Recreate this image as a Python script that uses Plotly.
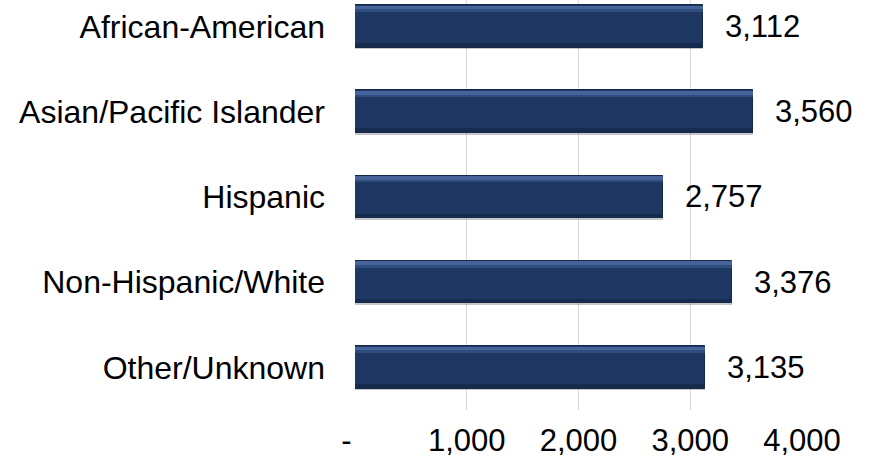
import plotly.graph_objects as go

# Average value by race/ethnicity group
categories = ["African-American", "Asian/Pacific Islander", "Hispanic",
              "Non-Hispanic/White", "Other/Unknown"]
values = [3112, 3560, 2757, 3376, 3135]
x_tickvals = [0, 1000, 2000, 3000, 4000]
x_ticktext = ["-\u00a0\u00a0", "1,000", "2,000", "3,000", "4,000"]

pos = list(range(len(categories)))
FONT = "Liberation Sans, Arial, sans-serif"
SIZE = 31

fig = go.Figure()

# soft drop shadow under each bar
fig.add_trace(go.Bar(
    x=values, y=pos, orientation="h", width=0.5, offset=-0.23,
    marker=dict(color="rgba(0,0,0,0.22)", line=dict(width=0)),
    hoverinfo="skip", showlegend=False,
))
# main bar body
fig.add_trace(go.Bar(
    x=values, y=pos, orientation="h", width=0.5, offset=-0.25,
    marker=dict(color="#1F3863", line=dict(color="#142848", width=1)),
    showlegend=False,
))
# upper bevel highlight
fig.add_trace(go.Bar(
    x=values, y=pos, orientation="h", width=0.045, offset=-0.245,
    marker=dict(color="#46639A", line=dict(width=0)),
    hoverinfo="skip", showlegend=False,
))
fig.add_trace(go.Bar(
    x=values, y=pos, orientation="h", width=0.03, offset=-0.2,
    marker=dict(color="#2F4C7E", line=dict(width=0)),
    hoverinfo="skip", showlegend=False,
))
# lower bevel shade
fig.add_trace(go.Bar(
    x=values, y=pos, orientation="h", width=0.05, offset=0.195,
    marker=dict(color="#172B4E", line=dict(width=0)),
    hoverinfo="skip", showlegend=False,
))

# value labels to the right of each bar
for v, p in zip(values, pos):
    fig.add_annotation(
        x=v, y=p, text=f"{v:,}", showarrow=False,
        xanchor="left", yanchor="middle", xshift=20,
        font=dict(family=FONT, size=SIZE, color="#000000"),
    )

fig.update_layout(
    width=869, height=460,
    margin=dict(l=355, r=67, t=0, b=50),
    paper_bgcolor="white", plot_bgcolor="white",
    barmode="overlay", bargap=0,
    font=dict(family=FONT, size=SIZE, color="#000000"),
    showlegend=False,
)
fig.update_xaxes(
    range=[0, 4000], tickvals=x_tickvals, ticktext=x_ticktext,
    showgrid=True, gridcolor="#D9D9D9", gridwidth=1,
    zeroline=False, showline=False, ticks="",
    ticklabelstandoff=9,
    tickfont=dict(family=FONT, size=SIZE, color="#000000"),
)
fig.update_yaxes(
    range=[4.5, -0.31], tickvals=pos, ticktext=categories,
    showgrid=False, zeroline=False, showline=False, ticks="",
    ticklabelstandoff=29,
    tickfont=dict(family=FONT, size=32, color="#000000"),
)

fig.write_html("out.html")
